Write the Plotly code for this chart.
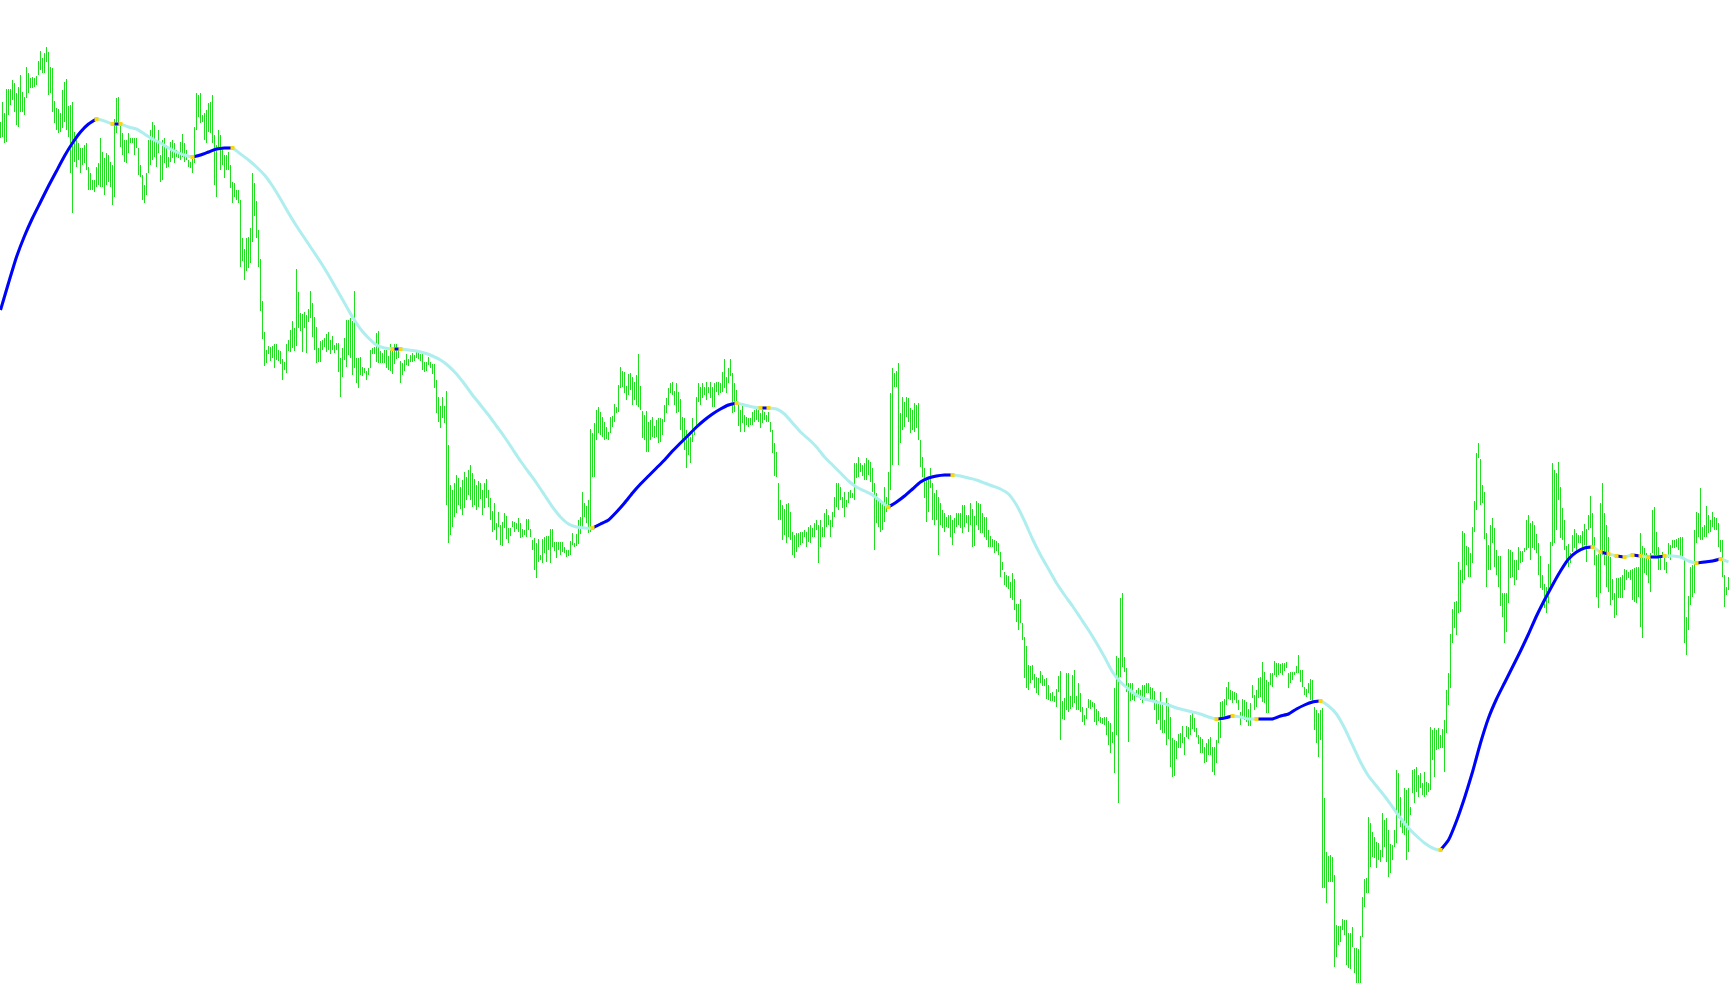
import plotly.graph_objects as go

# Bar highs / lows in chart points, one entry per bar (bar index 0..864)
bar_high = [
    883, 903, 892, 916, 916, 916, 925, 922, 912, 918,
    930, 913, 908, 938, 932, 927, 928, 927, 929, 944,
    954, 947, 952, 958, 953, 938, 937, 904, 897, 896,
    892, 915, 923, 926, 899, 900, 903, 873, 869, 862,
    857, 857, 860, 862, 838, 832, 825, 825, 838, 842,
    867, 853, 847, 852, 850, 843, 840, 886, 907, 908,
    882, 872, 865, 865, 872, 867, 867, 867, 867, 857,
    840, 830, 820, 832, 865, 875, 883, 880, 865, 875,
    850, 865, 867, 860, 848, 863, 865, 862, 855, 853,
    863, 871, 862, 855, 845, 843, 850, 878, 912, 910,
    912, 890, 892, 895, 902, 903, 910, 870, 860, 875,
    870, 858, 850, 850, 853, 840, 823, 822, 815, 815,
    805, 767, 756, 767, 768, 777, 832, 822, 804, 775,
    746, 704, 673, 655, 659, 658, 659, 661, 661, 655,
    654, 646, 643, 661, 665, 675, 684, 677, 736, 713,
    692, 691, 693, 690, 696, 714, 702, 688, 678, 657,
    664, 665, 667, 671, 673, 665, 669, 660, 662, 662,
    647, 657, 667, 685, 685, 687, 684, 714, 647, 647,
    648, 638, 637, 634, 637, 655, 657, 658, 672, 674,
    654, 652, 655, 655, 649, 661, 657, 661, 661, 657,
    644, 642, 645, 651, 646, 650, 652, 650, 653, 655,
    651, 651, 643, 643, 648, 643, 641, 641, 625, 608,
    599, 608, 599, 614, 560, 520, 515, 522, 530, 527,
    518, 525, 533, 528, 535, 540, 532, 526, 520, 524,
    522, 515, 522, 526, 515, 507, 494, 502, 482, 493,
    480, 483, 492, 489, 477, 477, 484, 483, 482, 487,
    482, 476, 475, 486, 486, 476, 465, 467, 462, 466,
    450, 466, 468, 469, 469, 476, 476, 463, 463, 463,
    463, 463, 458, 455, 455, 464, 472, 462, 471, 485,
    488, 513, 502, 499, 505, 576, 572, 582, 595, 598,
    593, 588, 583, 578, 573, 588, 589, 601, 598, 620,
    638, 634, 633, 619, 631, 632, 628, 623, 630, 651,
    619, 594, 590, 594, 583, 585, 588, 579, 585, 587,
    587, 586, 600, 607, 617, 622, 623, 614, 622, 613,
    606, 588, 587, 575, 568, 568, 587, 578, 608, 622,
    618, 622, 618, 623, 618, 623, 618, 622, 623, 623,
    622, 633, 646, 628, 637, 646, 632, 622, 615, 603,
    595, 600, 590, 588, 587, 587, 593, 595, 598, 595,
    592, 595, 593, 590, 593, 583, 575, 562, 553, 522,
    505, 500, 496, 501, 502, 493, 473, 470, 472, 472,
    473, 473, 475, 473, 478, 480, 477, 482, 485, 480,
    485, 478, 492, 496, 490, 485, 493, 508, 522, 522,
    518, 508, 513, 505, 513, 515, 512, 542, 542, 548,
    542, 540, 542, 547, 545, 543, 537, 522, 512, 505,
    505, 502, 518, 508, 533, 612, 637, 632, 634, 642,
    592, 608, 603, 608, 607, 597, 595, 602, 600, 602,
    565, 548, 537, 527, 527, 537, 522, 512, 515, 508,
    502, 495, 492, 488, 490, 490, 485, 487, 492, 492,
    492, 500, 500, 490, 490, 502, 496, 489, 504, 502,
    501, 492, 488, 488, 475, 469, 466, 465, 464, 462,
    453, 443, 433, 430, 429, 423, 432, 426, 401, 401,
    406, 382, 368, 359, 340, 339, 340, 331, 328, 327,
    334, 330, 326, 327, 320, 312, 313, 309, 316, 329,
    334, 304, 307, 332, 332, 309, 330, 335, 309, 322,
    312, 298, 290, 297, 306, 305, 303, 302, 296, 294,
    288, 287, 288, 288, 284, 282, 273, 317, 349, 347,
    407, 412, 348, 337, 322, 322, 322, 312, 315, 317,
    315, 320, 320, 322, 322, 318, 317, 314, 305, 302,
    313, 302, 285, 307, 302, 288, 267, 265, 264, 271,
    272, 279, 268, 279, 278, 290, 292, 287, 277, 270,
    268, 266, 258, 262, 266, 268, 258, 258, 265, 283,
    303, 304, 306, 318, 323, 315, 314, 313, 312, 305,
    293, 306, 305, 303, 296, 302, 320, 310, 315, 327,
    328, 343, 333, 325, 323, 332, 332, 344, 342, 342,
    341, 342, 342, 343, 332, 333, 333, 333, 339, 350,
    335, 335, 318, 316, 322, 326, 325, 298, 295, 292,
    295, 297, 207, 153, 149, 150, 148, 130, 80, 79,
    79, 86, 85, 85, 72, 72, 78, 57, 57, 56,
    69, 108, 126, 127, 188, 182, 173, 168, 163, 162,
    155, 192, 185, 187, 175, 161, 160, 175, 235, 232,
    208, 182, 217, 215, 217, 198, 235, 236, 238, 230,
    232, 222, 233, 223, 222, 278, 275, 277, 275, 277,
    270, 276, 285, 315, 332, 371, 396, 403, 404, 443,
    435, 474, 472, 459, 458, 452, 478, 504, 552, 562,
    546, 520, 513, 472, 460, 480, 487, 477, 455, 449,
    449, 412, 412, 412, 456, 455, 453, 445, 445, 458,
    454, 454, 457, 485, 490, 482, 484, 480, 471, 462,
    449, 430, 421, 418, 441, 463, 542, 535, 532, 543,
    518, 497, 485, 459, 461, 452, 470, 476, 472, 470,
    470, 474, 481, 476, 490, 509, 492, 468, 450, 451,
    502, 522, 492, 480, 468, 448, 426, 412, 427, 427,
    428, 430, 436, 435, 433, 435, 436, 437, 438, 438,
    472, 459, 457, 452, 448, 452, 495, 498, 473, 458,
    450, 453, 450, 443, 462, 460, 465, 465, 466, 467,
    468, 468, 447, 388, 409, 438, 440, 475, 493, 492,
    517, 478, 480, 499, 490, 485, 493, 488, 487, 482,
    465, 465, 430, 418, 428,
]
bar_low = [
    867, 868, 862, 863, 890, 900, 905, 893, 880, 878,
    893, 893, 890, 907, 912, 917, 917, 918, 920, 930,
    935, 932, 932, 943, 910, 912, 893, 882, 875, 872,
    873, 877, 883, 875, 868, 832, 792, 843, 838, 845,
    832, 840, 842, 835, 815, 815, 815, 813, 818, 820,
    818, 818, 810, 820, 823, 818, 800, 808, 872, 880,
    858, 850, 843, 842, 852, 862, 862, 850, 857, 830,
    828, 805, 802, 810, 832, 840, 845, 848, 838, 852,
    823, 825, 842, 837, 838, 843, 847, 842, 848, 847,
    845, 848, 843, 845, 838, 837, 832, 842, 875, 888,
    882, 883, 865, 862, 873, 872, 862, 820, 808, 855,
    835, 840, 827, 835, 835, 817, 802, 808, 805, 802,
    738, 744, 725, 734, 737, 742, 763, 789, 767, 738,
    694, 666, 639, 642, 651, 644, 647, 637, 645, 644,
    641, 625, 635, 632, 654, 653, 657, 654, 659, 677,
    674, 653, 677, 652, 683, 687, 668, 655, 642, 643,
    643, 655, 658, 653, 655, 651, 655, 652, 655, 633,
    608, 628, 645, 638, 650, 647, 630, 637, 622, 617,
    630, 629, 632, 625, 630, 637, 651, 651, 643, 642,
    642, 642, 642, 637, 635, 634, 631, 641, 646, 647,
    622, 630, 634, 640, 639, 643, 643, 644, 647, 646,
    644, 635, 633, 634, 640, 637, 631, 617, 592, 583,
    577, 587, 582, 500, 462, 470, 478, 488, 492, 500,
    496, 490, 497, 505, 510, 505, 498, 500, 495, 498,
    506, 490, 497, 507, 498, 485, 473, 475, 465, 478,
    460, 459, 477, 466, 462, 469, 478, 473, 476, 473,
    467, 468, 470, 468, 475, 468, 455, 435, 427, 443,
    445, 442, 452, 443, 455, 442, 458, 454, 447, 455,
    450, 453, 452, 448, 449, 450, 460, 458, 459, 461,
    471, 477, 488, 482, 472, 473, 528, 528, 565, 572,
    570, 568, 565, 566, 565, 572, 578, 583, 592, 593,
    617, 618, 612, 605, 610, 615, 600, 605, 600, 598,
    595, 567, 565, 553, 553, 565, 568, 567, 568, 562,
    563, 570, 583, 592, 600, 612, 610, 600, 592, 593,
    575, 563, 555, 537, 550, 542, 563, 570, 578, 603,
    600, 607, 610, 605, 612, 607, 598, 598, 613, 610,
    612, 613, 617, 612, 622, 629, 592, 593, 600, 579,
    573, 582, 573, 580, 578, 580, 580, 583, 585, 583,
    577, 582, 585, 583, 583, 573, 552, 529, 528, 485,
    485, 465, 470, 462, 468, 465, 450, 447, 453, 458,
    460, 462, 468, 458, 463, 462, 468, 468, 475, 442,
    458, 468, 468, 478, 480, 468, 478, 488, 498, 495,
    505, 497, 488, 498, 502, 507, 507, 505, 527, 528,
    533, 529, 525, 525, 530, 523, 513, 455, 482, 478,
    473, 475, 483, 493, 498, 515, 540, 618, 618, 540,
    562, 575, 578, 588, 583, 572, 575, 573, 577, 565,
    538, 528, 507, 483, 493, 517, 485, 480, 485, 450,
    480, 477, 473, 478, 477, 468, 460, 472, 478, 480,
    477, 472, 478, 482, 473, 480, 458, 459, 480, 475,
    472, 472, 468, 465, 458, 458, 458, 452, 454, 450,
    428, 435, 420, 418, 416, 407, 405, 395, 383, 375,
    382, 365, 327, 317, 315, 322, 325, 317, 312, 310,
    322, 319, 319, 306, 305, 304, 304, 303, 298, 313,
    265, 286, 285, 295, 293, 296, 298, 302, 295, 295,
    293, 283, 280, 286, 297, 296, 298, 283, 280, 284,
    282, 281, 280, 270, 260, 252, 262, 232, 270, 202,
    328, 338, 333, 313, 263, 304, 305, 304, 308, 310,
    305, 302, 308, 312, 312, 305, 305, 295, 281, 285,
    275, 272, 272, 260, 266, 238, 228, 229, 246, 257,
    257, 262, 250, 268, 266, 270, 276, 273, 268, 261,
    252, 252, 242, 243, 250, 250, 233, 230, 242, 262,
    267, 288, 288, 300, 306, 305, 302, 305, 302, 295,
    280, 288, 285, 283, 279, 279, 307, 295, 298, 307,
    308, 303, 302, 292, 292, 320, 318, 330, 328, 330,
    332, 330, 334, 337, 317, 322, 325, 330, 332, 332,
    323, 318, 310, 308, 312, 305, 303, 275, 262, 248,
    265, 117, 117, 102, 123, 123, 123, 38, 48, 60,
    63, 75, 70, 40, 37, 36, 58, 32, 22, 22,
    22, 68, 98, 112, 112, 138, 148, 147, 137, 145,
    143, 148, 158, 143, 128, 132, 145, 158, 162, 187,
    178, 172, 170, 145, 153, 190, 212, 202, 213, 208,
    217, 210, 208, 210, 213, 215, 245, 228, 255, 256,
    257, 257, 233, 272, 300, 317, 362, 377, 370, 392,
    393, 422, 425, 440, 428, 428, 442, 473, 495, 547,
    500, 502, 466, 418, 435, 435, 462, 438, 430, 418,
    399, 388, 362, 373, 402, 427, 428, 420, 425, 435,
    442, 443, 453, 455, 457, 445, 457, 455, 452, 430,
    417, 415, 397, 392, 402, 418, 459, 462, 475, 505,
    467, 465, 455, 443, 438, 442, 453, 457, 454, 462,
    462, 458, 460, 443, 475, 477, 457, 440, 408, 397,
    412, 450, 440, 418, 413, 400, 405, 387, 390, 407,
    407, 407, 415, 425, 427, 425, 405, 403, 402, 408,
    378, 367, 432, 430, 422, 413, 452, 450, 450, 435,
    435, 448, 435, 432, 447, 445, 457, 457, 458, 455,
    447, 447, 362, 350, 375, 400, 408, 412, 462, 468,
    465, 465, 468, 468, 472, 473, 478, 475, 475, 458,
    453, 428, 398, 410, 415,
]

# Moving average, read every 4 bars (bar index 0, 4, ..., 864)
ma_step = 4
ma_values = [
    695, 722, 748, 769, 787, 803, 819, 834, 849, 862, 873, 881, 886,
    884, 881, 881, 878, 876, 871, 866, 862, 857, 853, 850, 848,
    850, 853, 856, 857, 857,
    851, 845, 838, 830, 819, 806, 792, 779, 767, 755, 743, 730, 716, 702, 688, 676, 667, 660, 657,
    656, 656, 655, 654, 652, 649, 645, 639, 631, 621, 610, 600, 590, 579, 568, 556, 544, 533, 522,
    510, 498, 488, 481, 478, 477, 477,
    481, 485, 493, 502, 512, 521, 529, 537, 545, 554, 562, 570, 578, 585, 591, 596, 600, 602,
    600, 598, 597, 597, 596, 591, 582, 573, 566, 558, 548, 540, 532, 524, 518, 514, 510, 504, 498,
    503, 509, 516, 523, 527, 529, 530, 530,
    529, 527, 525, 522, 519, 516, 511, 500, 484, 466, 450, 436, 422, 410, 399, 387, 375, 362, 348,
    333, 323, 316, 310, 306, 304, 302, 300, 297, 295, 293, 291, 288, 286,
    287, 289, 288, 286, 286, 286, 286, 289, 291, 296, 300, 303, 304,
    299, 291, 277, 260, 243, 229, 219, 209, 198, 187, 177, 169, 162, 157, 155,
    165, 184, 207, 233, 262, 287, 306, 322, 338, 354, 371, 389, 405, 420, 434, 446, 453, 457, 458,
    453, 451, 449, 448, 450, 449, 448, 448, 449, 449, 448, 444, 442, 443, 444, 446, 443,
]

# Stretches (bar index from, to) where the average is rising
ma_rising = [
    (0, 48), (56, 60), (96, 116), (196, 200), (296, 368), (380, 384), (444, 476),
    (608, 616), (628, 660), (720, 796), (800, 804), (808, 812), (816, 820),
    (824, 832), (848, 860),
]

GREEN = "#22DD22"
BLUE = "#0000FF"
PALE = "#AFEEEE"
GOLD = "#FFD700"

# Bars as vertical strokes
bx, by = [], []
for i, (h, l) in enumerate(zip(bar_high, bar_low)):
    bx += [i, i, None]
    by += [l, h, None]

ma_x = [k * ma_step for k in range(len(ma_values))]
ma_of = dict(zip(ma_x, ma_values))

up_x, up_y, dot_x, dot_y = [], [], [], []
for a, b in ma_rising:
    xs = [x for x in ma_x if a <= x <= b]
    up_x += xs + [None]
    up_y += [ma_of[x] for x in xs] + [None]
    for x in (a, b):
        if 0 < x < ma_x[-1]:
            dot_x.append(x)
            dot_y.append(ma_of[x])

fig = go.Figure()
fig.add_trace(go.Scatter(x=bx, y=by, mode="lines",
                         line=dict(color=GREEN, width=1), hoverinfo="skip"))
fig.add_trace(go.Scatter(x=ma_x, y=ma_values, mode="lines",
                         line=dict(color=PALE, width=3, shape="spline", smoothing=0.5),
                         hoverinfo="skip"))
fig.add_trace(go.Scatter(x=up_x, y=up_y, mode="lines", connectgaps=False,
                         line=dict(color=BLUE, width=3, shape="spline", smoothing=0.5),
                         hoverinfo="skip"))
fig.add_trace(go.Scatter(x=dot_x, y=dot_y, mode="markers",
                         marker=dict(color=GOLD, size=4, symbol="square", line=dict(width=0)),
                         hoverinfo="skip"))

n = len(bar_high)
fig.update_layout(
    width=1730, height=1005,
    margin=dict(l=0, r=0, t=0, b=0, pad=0),
    paper_bgcolor="white", plot_bgcolor="white",
    showlegend=False,
    xaxis=dict(visible=False, range=[-0.25, n - 0.25], fixedrange=True),
    yaxis=dict(visible=False, range=[0, 1005], fixedrange=True),
)

fig.write_html("out.html", config={"displayModeBar": False},
               post_script="document.body.style.margin='0';document.body.style.overflow='hidden';")
